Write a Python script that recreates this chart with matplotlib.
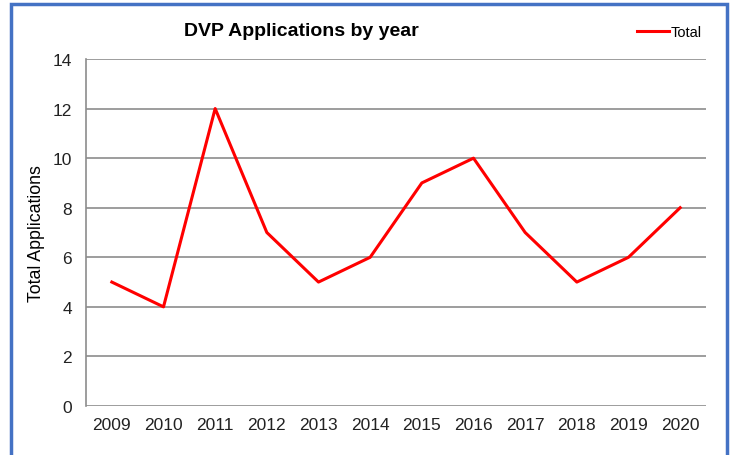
import matplotlib
matplotlib.use("Agg")
from matplotlib import pyplot as plt
from matplotlib.patches import Rectangle

years = ["2009", "2010", "2011", "2012", "2013", "2014",
         "2015", "2016", "2017", "2018", "2019", "2020"]
total = [5, 4, 12, 7, 5, 6, 9, 10, 7, 5, 6, 8]

plt.rcParams["font.family"] = ["Liberation Sans", "DejaVu Sans"]

W, H = 732, 456
fig = plt.figure(figsize=(W / 100, H / 100), dpi=100)
ax = fig.add_axes([86 / W, 1 - 407 / H, (706 - 86) / W, (407 - 60) / H])

x = list(range(len(years)))
ax.plot(x, total, color="#ff0000", lw=2.2, label="Total")

ax.set_xlim(-0.5, len(years) - 0.5)
ax.set_ylim(0, 14)
ax.set_yticks(range(0, 15, 2))
ax.set_xticks(x)
ax.set_xticklabels(years)
ax.tick_params(length=0, labelsize=12.5, colors="#222222", pad=8)
ax.tick_params(axis="y", pad=10)
ax.grid(axis="y", color="#8c8c8c", lw=1.2)
ax.set_axisbelow(True)
for s in ["top", "right", "bottom"]:
    ax.spines[s].set_visible(False)
ax.spines["left"].set_color("#8c8c8c")
ax.spines["left"].set_linewidth(1.2)

ax.set_ylabel("Total Applications", fontsize=12.8)
ax.yaxis.set_label_coords(-(86 - 45) / (706 - 86), 0.5)

fig.text(301 / W, 1 - 32 / H, "DVP Applications by year", fontsize=14,
         fontweight="bold", ha="center", va="center")
fig.legend(loc="center", bbox_to_anchor=(669 / W, 1 - 33 / H), frameon=False,
           fontsize=10.5, handlelength=2.2, handletextpad=0.1)

# blue outer border
fig.patches.append(Rectangle((11 / W, -0.05), (727 - 11) / W, 1.05 - 5 / H,
                             transform=fig.transFigure, fill=False,
                             edgecolor="#4472c4", lw=2.5))

fig.savefig("out.png", dpi=100)
